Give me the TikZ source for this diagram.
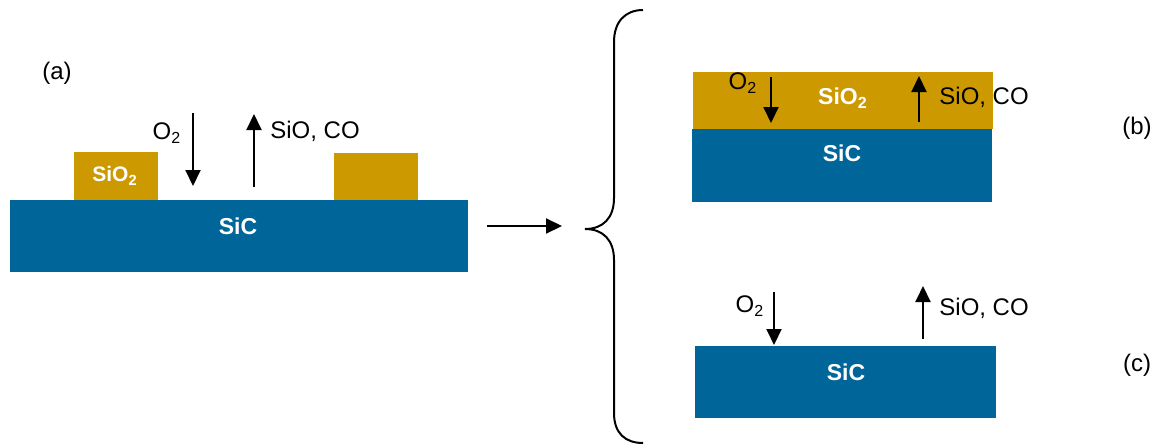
\documentclass[tikz,border=0pt]{standalone}
\usepackage{fontspec}
\setmainfont{Liberation Sans}
\usetikzlibrary{arrows.meta,positioning}
\definecolor{ovSiC}{HTML}{006699}
\definecolor{ovOx}{HTML}{CC9900}
\tikzset{
  ov/.style={x=.5pt, y=-.5pt, font=\fontsize{12}{14}\selectfont, >={Triangle[length=8pt, width=7.5pt]}},
  layer/.style 2 args={minimum width=#1, minimum height=#2, inner sep=0pt, outer sep=0pt, anchor=north west},
  sic/.style={fill=ovSiC},
  oxide/.style={fill=ovOx},
  mat/.style={text=white, font=\fontsize{11.5}{14}\selectfont\bfseries, inner sep=0pt},
  gas/.style={inner sep=0pt},
  tag/.style={inner sep=0pt},
  flux/.style={->, line width=1pt},
  brace/.style={line width=1pt},
}

\begin{document}
\begin{tikzpicture}[ov]
\useasboundingbox (0,0) rectangle (1155,445);
% (a): SiC mit Oxidinseln
\node[tag] (tagA) at (57,73) {(a)};
\node[sic, layer={229pt}{36pt}] (sicA) at (10,200) {};
\node[oxide, layer={42pt}{24pt}] (oxA1) at (74,152) {};
\node[oxide, layer={42pt}{23.5pt}] (oxA2) at (334,153) {};
\node[mat] (sicAt) at (238,226) {SiC};
\node[mat, font=\fontsize{10.5}{12}\selectfont\bfseries] (oxA1t) at (115,176) {SiO\textsubscript{2}};
\coordinate (inA0) at (193,113);
\coordinate (inA1) at (193,186);
\coordinate (outA0) at (254,187);
\coordinate (outA1) at (254,114);
\draw[flux] (inA0) -- (inA1);
\draw[flux] (outA0) -- (outA1);
\node[gas] (o2A) at (167,133) {O\textsubscript{2}};
\node[gas, anchor=west] (coA) at (270,131) {SiO, CO};
% Übergang
\coordinate (go0) at (487,226);
\coordinate (go1) at (562,226);
\draw[flux] (go0) -- (go1);
\draw[brace] (643,10) .. controls (625,10) and (614,22) .. (614,42)
  -- (614,198) .. controls (614,218) and (603,229) .. (585,229)
  .. controls (603,229) and (614,240) .. (614,260)
  -- (614,413) .. controls (614,433) and (625,443) .. (643,443);
% (b): geschlossene Oxidschicht
\node[oxide, layer={150pt}{28.5pt}] (oxB) at (693,72) {};
\node[sic, layer={150pt}{36.5pt}] (sicB) at (692,129) {};
\node[mat] (oxBt) at (843,98) {SiO\textsubscript{2}};
\node[mat] (sicBt) at (842,153) {SiC};
\coordinate (inB0) at (771,77);
\coordinate (inB1) at (771,123);
\coordinate (outB0) at (919,122);
\coordinate (outB1) at (919,76);
\draw[flux] (inB0) -- (inB1);
\draw[flux] (outB0) -- (outB1);
\node[gas] (o2B) at (743,83) {O\textsubscript{2}};
\node[gas, anchor=west] (coB) at (939,97) {SiO, CO};
\node[tag] (tagB) at (1137,128) {(b)};
% (c): blanke Oberfläche
\node[sic, layer={150.5pt}{36pt}] (sicC) at (695,346) {};
\node[mat] (sicCt) at (846,372) {SiC};
\coordinate (inC0) at (774,292);
\coordinate (inC1) at (774,345);
\coordinate (outC0) at (923,339);
\coordinate (outC1) at (923,286);
\draw[flux] (inC0) -- (inC1);
\draw[flux] (outC0) -- (outC1);
\node[gas] (o2C) at (750,306) {O\textsubscript{2}};
\node[gas, anchor=west] (coC) at (939,308) {SiO, CO};
\node[tag] (tagC) at (1137,365) {(c)};
\end{tikzpicture}
\end{document}
